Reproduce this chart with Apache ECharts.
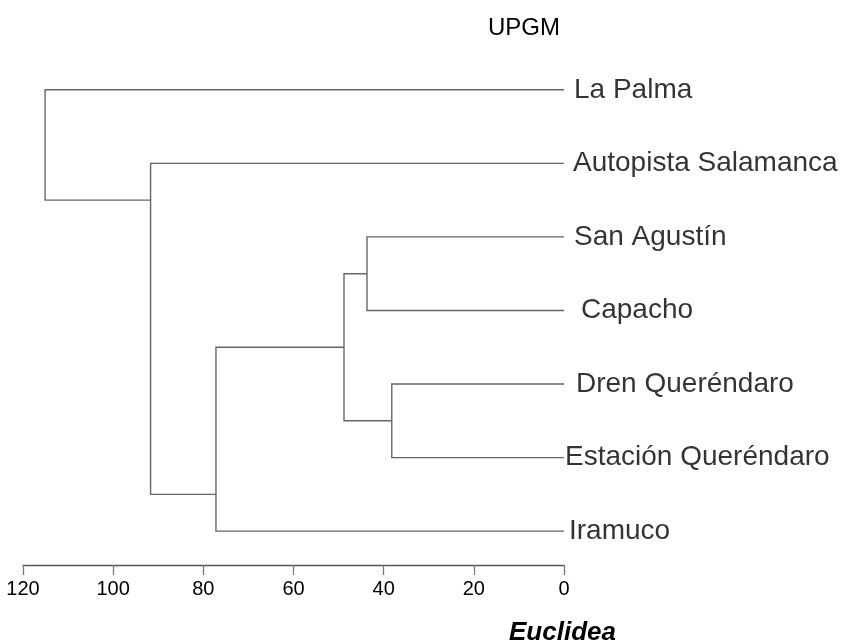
<!DOCTYPE html>
<html>
<head>
<meta charset="utf-8">
<script src="https://cdn.jsdelivr.net/npm/echarts@6/dist/echarts.min.js"></script>
<style>
  html, body { margin: 0; padding: 0; background: #fff; }
  #dendro { width: 852px; height: 640px; }
</style>
</head>
<body>
<div id="dendro"></div>
<script>
// leaves, top to bottom
var leafNames = ['La Palma', 'Autopista Salamanca', 'San Agustín', 'Capacho',
    'Dren Queréndaro', 'Estación Queréndaro', 'Iramuco'];

// merges (Lx = leaf index, Mx = merge index)
var mergeHeight = [43.7, 38.2, 48.8, 77.2, 91.7, 115.1];
var mergeTop    = ['L2', 'L4', 'M0', 'M2', 'L1', 'L0'];
var mergeBottom = ['L3', 'L5', 'M1', 'L6', 'M3', 'M4'];
var mergeY      = [2.5, 4.5, 3.5, 5.5, 1.5, 0.75];

var xTicks = [0, 20, 40, 60, 80, 100, 120];

// label spacing after the leaf line
var labelPad = [10, 9, 10, 17, 12, 1, 5];

var fontFam = '"Liberation Sans", Arial, sans-serif';

function childPos(id) {
    var k = parseInt(id.substring(1), 10);
    if (id.charAt(0) == 'L') {
        return [0, k];
    }
    return [mergeHeight[k], mergeY[k]];
}

var segments = [];
for (var m = 0; m < mergeHeight.length; m++) {
    var a = childPos(mergeTop[m]);
    var b = childPos(mergeBottom[m]);
    var h = mergeHeight[m];
    segments.push({coords: [[a[0], a[1]], [h, a[1]], [h, b[1]], [b[0], b[1]]]});
}

var leafData = [];
for (var i = 0; i < leafNames.length; i++) {
    leafData.push({
        name: leafNames[i],
        value: [0, i],
        label: {distance: labelPad[i]}
    });
}

var chart = echarts.init(document.getElementById('dendro'));
chart.setOption({
    animation: false,
    backgroundColor: '#fff',
    title: [{
        text: 'UPGM',
        left: 483,
        top: 11,
        textStyle: {fontFamily: fontFam, fontSize: 24, fontWeight: 'normal', color: '#000'}
    }, {
        text: 'Euclidea',
        left: 504,
        top: 615,
        textStyle: {fontFamily: fontFam, fontSize: 26, fontWeight: 'bold', fontStyle: 'italic', color: '#000'}
    }],
    grid: {left: 23, right: 288, top: 53, bottom: 75},
    xAxis: {
        type: 'value',
        inverse: true,
        min: 0,
        max: 120,
        interval: 20,
        splitLine: {show: false},
        axisLine: {show: true, onZero: false, lineStyle: {color: '#555', width: 1.3}},
        axisTick: {show: true, length: 10, lineStyle: {color: '#777', width: 1.3}},
        axisLabel: {
            margin: 14,
            fontFamily: fontFam,
            fontSize: 20,
            color: '#000',
            formatter: function (v) {
                return xTicks.indexOf(v) > -1 ? String(v) : '';
            }
        }
    },
    yAxis: {
        type: 'value',
        inverse: true,
        min: -0.5,
        max: 6.46,
        show: false
    },
    series: [{
        type: 'lines',
        coordinateSystem: 'cartesian2d',
        polyline: true,
        silent: true,
        lineStyle: {color: '#666', width: 1.4, opacity: 1},
        data: segments
    }, {
        type: 'scatter',
        symbolSize: 0,
        silent: true,
        label: {
            show: true,
            position: 'right',
            formatter: '{b}',
            fontFamily: fontFam,
            fontSize: 28,
            color: '#000'
        },
        data: leafData
    }]
});
</script>
</body>
</html>
